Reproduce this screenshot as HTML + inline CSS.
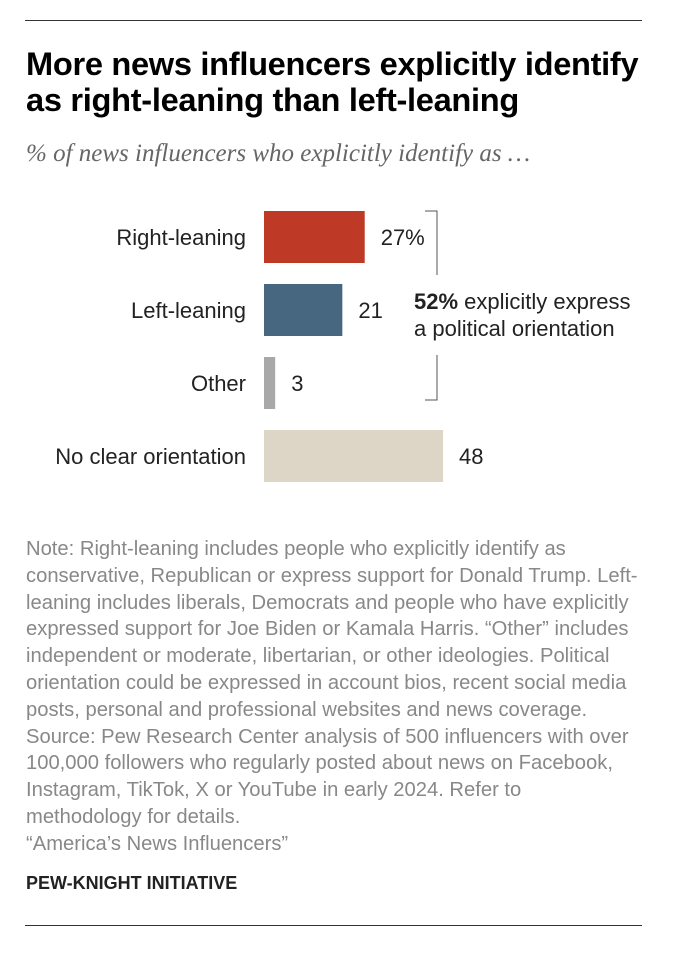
<!DOCTYPE html>
<html><head><meta charset="utf-8"><style>
body{margin:0;background:#fff;width:674px;height:964px;position:relative;font-family:"Liberation Sans",sans-serif;overflow:hidden}
.rule{position:absolute;left:25px;width:617px;height:1px;background:#333}
#title{position:absolute;left:26px;top:46px;font-size:32.6px;font-weight:bold;line-height:36px;color:#000;letter-spacing:-0.3px;white-space:nowrap}
#sub{position:absolute;left:26px;top:140px;font-family:"Liberation Serif",serif;font-style:italic;font-size:25px;color:#666;white-space:nowrap}
#note{position:absolute;left:26px;top:536px;font-size:20.2px;line-height:26.8px;color:#888;white-space:nowrap}
#src{position:absolute;left:26px;top:873px;font-size:18px;font-weight:bold;color:#222}
</style></head><body>
<div class="rule" style="top:20px"></div>
<div id="title">More news influencers explicitly identify<br>as right-leaning than left-leaning</div>
<div id="sub">% of news influencers who explicitly identify as …</div>
<svg id="chart" width="674" height="500" style="position:absolute;left:0;top:0"></svg>
<div id="note">Note: Right-leaning includes people who explicitly identify as<br>conservative, Republican or express support for Donald Trump. Left-<br>leaning includes liberals, Democrats and people who have explicitly<br>expressed support for Joe Biden or Kamala Harris. “Other” includes<br>independent or moderate, libertarian, or other ideologies. Political<br>orientation could be expressed in account bios, recent social media<br>posts, personal and professional websites and news coverage.<br>Source: Pew Research Center analysis of 500 influencers with over<br>100,000 followers who regularly posted about news on Facebook,<br>Instagram, TikTok, X or YouTube in early 2024. Refer to<br>methodology for details.<br>“America’s News Influencers”</div>
<div id="src">PEW-KNIGHT INITIATIVE</div>
<div class="rule" style="top:925px"></div>
<script>
const categories=["Right-leaning","Left-leaning","Other","No clear orientation"];
const values=[27,21,3,48];
const valueLabels=["27%","21","3","48"];
const colors=["#be3a26","#46677f","#a8a8a8","#ddd6c7"];
const NS="http://www.w3.org/2000/svg";
const svg=document.getElementById('chart');
const x0=264,scale=3.73;
const xPos=v=>x0+v*scale;
const yPos=i=>211+i*73;
function mk(t,a){const e=document.createElementNS(NS,t);for(const k in a)e.setAttribute(k,a[k]);svg.appendChild(e);return e;}
categories.forEach((c,i)=>{
 const r=mk('rect',{x:x0,y:yPos(i),width:xPos(values[i])-x0,height:52,fill:colors[i]});
 
 
 const l=mk('text',{x:246,y:yPos(i)+34,'text-anchor':'end','font-size':22,fill:'#222','font-family':'Liberation Sans, sans-serif'});
 l.textContent=c;
 
 
 const v=mk('text',{x:xPos(values[i])+16,y:yPos(i)+34,'font-size':22,fill:'#222','font-family':'Liberation Sans, sans-serif'});
 v.textContent=valueLabels[i];
 
 
});
const b=mk('path',{d:'M425 211 H437 V275 M437 355 V400 H425',fill:'none',stroke:'#555','stroke-width':1});


const t1=mk('text',{x:414,y:309,'font-size':22,fill:'#222','font-family':'Liberation Sans, sans-serif'});
t1.innerHTML='<tspan font-weight="bold">52%</tspan> explicitly express';


const t2=mk('text',{x:414,y:336,'font-size':22,fill:'#222','font-family':'Liberation Sans, sans-serif'});
t2.textContent='a political orientation';


</script>
</body></html>
